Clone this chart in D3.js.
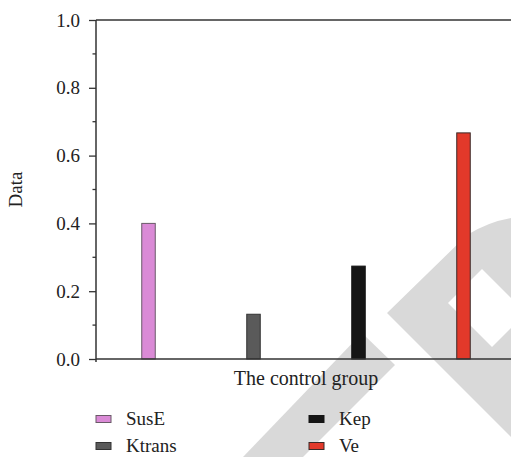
<!DOCTYPE html>
<html>
<head>
<meta charset="utf-8">
<script src="https://cdn.jsdelivr.net/npm/d3@7"></script>
<style>
  body { margin: 0; background: #fff; }
  svg { display: block; }
</style>
</head>
<body>
<svg width="511" height="457"></svg>
<script>
// data
const seriesNames = ["SusE", "Ktrans", "Kep", "Ve"];
const values = [0.4, 0.132, 0.274, 0.667];
const category = "The control group";
const yTicks = [0, 0.2, 0.4, 0.6, 0.8, 1.0];
const yMinorTicks = [0.1, 0.3, 0.5, 0.7, 0.9];
const colors = ["#da8ad6", "#5a5a5a", "#151515", "#e2392a"];
const strokes = ["#6a5a68", "#333333", "#151515", "#3a2a28"];

const svg = d3.select("svg");
const serif = "Liberation Serif, DejaVu Serif, serif";

const plotLeft = 96, plotRight = 516, plotTop = 20, plotBottom = 359;

const x = d3.scalePoint().domain(seriesNames).range([plotLeft, plotRight]).padding(0.5);
const y = d3.scaleLinear().domain([0, 1]).range([plotBottom, plotTop]);
const barW = 13.5;

// watermark behind the chart
const wm = svg.append("g").attr("fill", "#d9d9d9");
wm.append("path")
  .attr("d", "M243,457 L362,333 L395,365 L303,457 Z");
wm.append("path")
  .attr("fill-rule", "evenodd")
  .attr("d", "M387,313 L467,235 Q488,222 511,218 L511,437 Z " +
             "M448,303 L482,269 L526,313 L492,347 Z");

// bars
svg.append("g")
  .selectAll("rect")
  .data(values)
  .enter()
  .append("rect")
  .attr("x", (d, i) => x(seriesNames[i]) - barW / 2)
  .attr("y", (d) => y(d))
  .attr("width", barW)
  .attr("height", (d) => y(0) - y(d))
  .attr("fill", (d, i) => colors[i])
  .attr("stroke", (d, i) => strokes[i])
  .attr("stroke-width", 1);

// axes
const axisColor = "#333";
const yAxis = svg.append("g")
  .attr("transform", `translate(${plotLeft},0)`)
  .call(d3.axisLeft(y).tickValues(yTicks).tickSize(7).tickPadding(9).tickFormat(d3.format(".1f")));
yAxis.attr("font-family", serif).attr("font-size", 19);
yAxis.select(".domain").remove();
yAxis.selectAll("line").attr("stroke", axisColor).attr("stroke-width", 1.3);
yAxis.selectAll("text").attr("fill", "#222");

svg.append("g")
  .selectAll("line")
  .data(yMinorTicks)
  .enter()
  .append("line")
  .attr("x1", plotLeft - 3.5)
  .attr("x2", plotLeft)
  .attr("y1", (d) => y(d))
  .attr("y2", (d) => y(d))
  .attr("stroke", axisColor)
  .attr("stroke-width", 1.3);

// frame lines (left, top, bottom)
svg.append("line").attr("x1", plotLeft).attr("x2", plotLeft).attr("y1", plotTop).attr("y2", plotBottom + 3)
  .attr("stroke", axisColor).attr("stroke-width", 1.5);
svg.append("line").attr("x1", plotLeft).attr("x2", 511).attr("y1", plotTop).attr("y2", plotTop)
  .attr("stroke", axisColor).attr("stroke-width", 1.5);
svg.append("line").attr("x1", plotLeft).attr("x2", 511).attr("y1", plotBottom).attr("y2", plotBottom)
  .attr("stroke", axisColor).attr("stroke-width", 1.5);

// axis titles
svg.append("text")
  .attr("x", (plotLeft + plotRight) / 2)
  .attr("y", 385)
  .attr("text-anchor", "middle")
  .attr("fill", "#222")
  .attr("font-family", serif)
  .attr("font-size", 20)
  .text(category);

svg.append("text")
  .attr("transform", `translate(22,${(plotTop + plotBottom) / 2}) rotate(-90)`)
  .attr("text-anchor", "middle")
  .attr("fill", "#222")
  .attr("font-family", serif)
  .attr("font-size", 19)
  .text("Data");

// legend
const legendPos = [[96, 419], [96, 446], [309, 419], [309, 446]];
const legend = svg.append("g")
  .selectAll("g")
  .data(seriesNames)
  .enter()
  .append("g")
  .attr("transform", (d, i) => `translate(${legendPos[i][0]},${legendPos[i][1]})`);

legend.append("rect")
  .attr("x", 0)
  .attr("y", -3.5)
  .attr("width", 15)
  .attr("height", 7)
  .attr("fill", (d, i) => colors[i])
  .attr("stroke", (d, i) => strokes[i])
  .attr("stroke-width", 1);

legend.append("text")
  .attr("x", 30)
  .attr("y", 6)
  .attr("fill", "#222")
  .attr("font-family", serif)
  .attr("font-size", 19)
  .text((d) => d);
</script>
</body>
</html>
